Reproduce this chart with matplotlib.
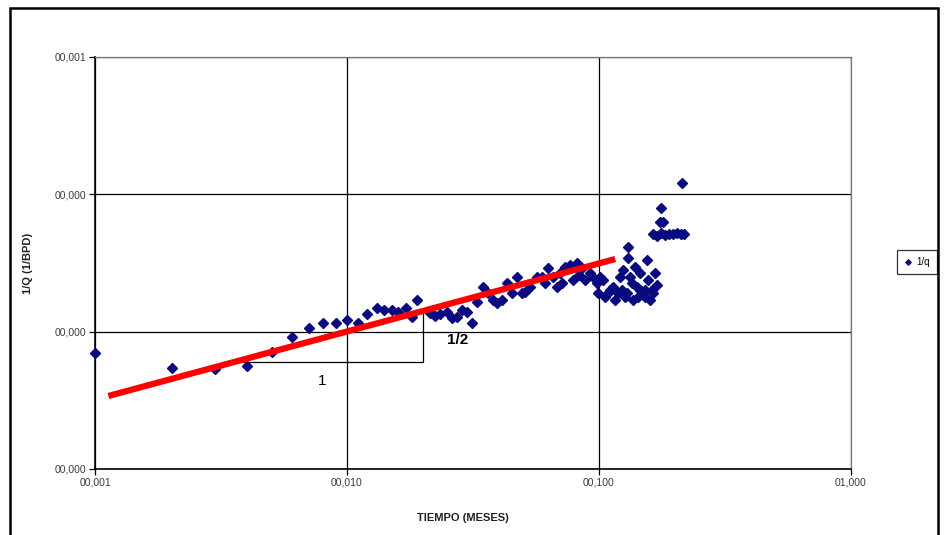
import matplotlib
matplotlib.use('Agg')
import matplotlib.pyplot as plt
from matplotlib.patches import Rectangle
from matplotlib.ticker import NullLocator

plt.rcParams['font.family'] = ['Liberation Sans Narrow', 'Liberation Sans', 'DejaVu Sans']

# datos (tiempo en meses, 1/q)
tiempo = [0.00100, 0.00202, 0.00299, 0.00401, 0.00504, 0.00605, 0.00706, 0.00803, 0.00904, 0.0100,
          0.0111, 0.0120, 0.0131, 0.0140, 0.0151, 0.0159, 0.0171, 0.0181, 0.0190, 0.0214,
          0.0223, 0.0234, 0.0249, 0.0261, 0.0273, 0.0286, 0.0299, 0.0313, 0.0328, 0.0347,
          0.0363, 0.0380, 0.0394, 0.0412, 0.0431, 0.0451, 0.0473, 0.0495, 0.0508, 0.0532,
          0.0567, 0.0594, 0.0611, 0.0628, 0.0657, 0.0681, 0.0713, 0.0733, 0.0767, 0.0789,
          0.0818, 0.0856, 0.0880, 0.0921, 0.0947, 0.0982, 0.0991, 0.101, 0.104, 0.109,
          0.114, 0.116, 0.119, 0.121, 0.123, 0.124, 0.127, 0.130, 0.130, 0.133,
          0.135, 0.136, 0.139, 0.142, 0.146, 0.146, 0.149, 0.152, 0.155, 0.156,
          0.159, 0.162, 0.167, 0.170, 0.175, 0.176, 0.179, 0.164, 0.170, 0.176,
          0.183, 0.190, 0.197, 0.204, 0.212, 0.217, 0.213,
          0.106, 0.111, 0.129, 0.152, 0.143, 0.164, 0.0700, 0.0836]
inv_q = [6.98e-6, 5.43e-6, 5.35e-6, 5.62e-6, 7.11e-6, 9.14e-6, 1.06e-5, 1.16e-5, 1.16e-5, 1.22e-5,
         1.16e-5, 1.34e-5, 1.49e-5, 1.44e-5, 1.44e-5, 1.39e-5, 1.49e-5, 1.28e-5, 1.70e-5, 1.37e-5,
         1.30e-5, 1.34e-5, 1.39e-5, 1.26e-5, 1.28e-5, 1.44e-5, 1.39e-5, 1.16e-5, 1.64e-5, 2.11e-5,
         1.91e-5, 1.70e-5, 1.62e-5, 1.70e-5, 2.26e-5, 1.91e-5, 2.50e-5, 1.91e-5, 1.94e-5, 2.11e-5,
         2.50e-5, 2.50e-5, 2.26e-5, 2.90e-5, 2.50e-5, 2.11e-5, 2.26e-5, 2.96e-5, 3.06e-5, 2.38e-5,
         3.16e-5, 2.90e-5, 2.38e-5, 2.67e-5, 2.50e-5, 2.26e-5, 1.91e-5, 2.50e-5, 2.38e-5, 1.91e-5,
         2.11e-5, 1.70e-5, 1.91e-5, 2.50e-5, 2.01e-5, 2.81e-5, 1.79e-5, 4.13e-5, 3.44e-5, 2.50e-5,
         2.26e-5, 1.70e-5, 2.96e-5, 2.11e-5, 2.67e-5, 2.01e-5, 1.91e-5, 1.79e-5, 3.33e-5, 2.38e-5,
         1.70e-5, 2.01e-5, 2.67e-5, 2.18e-5, 6.28e-5, 7.94e-5, 6.28e-5, 5.14e-5, 5.00e-5, 5.20e-5,
         5.08e-5, 5.14e-5, 5.14e-5, 5.20e-5, 5.14e-5, 5.14e-5, 1.21e-4,
         1.79e-5, 2.01e-5, 1.91e-5, 2.01e-5, 1.79e-5, 1.91e-5, 2.67e-5, 2.60e-5]

# recta de pendiente 1/2
recta_x = [0.00113, 0.116]
recta_y = [3.4e-6, 3.38e-5]

# triangulo de pendiente
tri_x = [0.00387, 0.02, 0.02]
tri_y = [6.0e-6, 6.0e-6, 1.45e-5]

xticks = [0.001, 0.01, 0.1, 1.0]
xtick_labels = ['00,001', '00,010', '00,100', '01,000']
yticks = [1e-6, 1e-5, 1e-4, 1e-3]
ytick_labels = ['00,000', '00,000', '00,000', '00,001']

fig = plt.figure(figsize=(9.51, 5.35), dpi=100)
fig.patch.set_facecolor('white')
ax = fig.add_axes([0.0999, 0.1234, 0.7949, 0.7701])

ax.set_xscale('log')
ax.set_yscale('log')
ax.set_xlim(0.001, 1.0)
ax.set_ylim(1e-6, 1e-3)

ax.plot(tri_x, tri_y, color='black', lw=0.9, zorder=2)
ax.plot(recta_x, recta_y, color='#ff0000', lw=4.5, solid_capstyle='butt', zorder=4)
ax.plot(tiempo, inv_q, 'D', color='#0a0a80', markersize=5.5, lw=0, label='1/q', zorder=3,
        clip_on=False)

ax.text(0.00796, 4.37e-6, '1', fontsize=11, family=['Liberation Sans', 'DejaVu Sans'],
        ha='center', va='center')
ax.text(0.0249, 8.69e-6, '1/2', fontsize=11, fontweight='bold',
        family=['Liberation Sans', 'DejaVu Sans'], ha='left', va='center')

ax.set_xticks(xticks)
ax.set_xticklabels(xtick_labels)
ax.set_yticks(yticks)
ax.set_yticklabels(ytick_labels)
ax.xaxis.set_minor_locator(NullLocator())
ax.yaxis.set_minor_locator(NullLocator())
ax.tick_params(axis='both', labelsize=7.5, labelcolor='#3a3a3a', length=4, width=0.9,
               direction='out', pad=2)

ax.grid(True, which='major', color='black', lw=0.9)
ax.set_axisbelow(True)
for s in ['top', 'right']:
    ax.spines[s].set_color('#777777')
    ax.spines[s].set_linewidth(0.9)
for s in ['left', 'bottom']:
    ax.spines[s].set_color('black')
    ax.spines[s].set_linewidth(1.2)

ax.set_xlabel('TIEMPO (MESES)', fontsize=8, fontweight='bold', color='#222222')
ax.xaxis.set_label_coords(0.487, -0.107)
ax.set_ylabel('1/Q (1/BPD)', fontsize=8, fontweight='bold', color='#222222',
              family=['Liberation Sans', 'DejaVu Sans'])
ax.yaxis.set_label_coords(-0.082, 0.5)

leg = ax.legend(loc='center left', bbox_to_anchor=(0.943, 0.510), bbox_transform=fig.transFigure,
                fontsize=7, frameon=True, fancybox=False, handlelength=0.9, handletextpad=0.4,
                markerscale=0.5, borderpad=0.7, borderaxespad=0)
leg.get_frame().set_edgecolor('black')
leg.get_frame().set_linewidth(0.9)

# marco exterior del grafico
fig.patches.append(Rectangle((0.0105, -0.05), 0.976, 1.035, transform=fig.transFigure,
                             fill=False, edgecolor='black', lw=1.8))

fig.savefig('out.png', dpi=100)
